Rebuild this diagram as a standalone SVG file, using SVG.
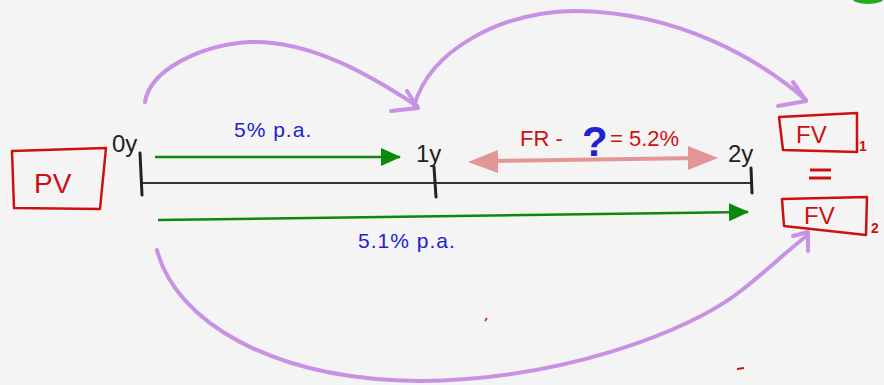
<svg xmlns="http://www.w3.org/2000/svg" width="884" height="385" viewBox="0 0 884 385">
<defs>
<style>
.hand{font-family:"Liberation Sans","DejaVu Sans",sans-serif;}
.red{fill:#cc1111;}
.blue{fill:#2222cc;}
.blk{fill:#222;}
.box{fill:none;stroke:#cc1111;stroke-width:2.5;stroke-linejoin:round;}
.arc{fill:none;stroke:#c991e3;stroke-width:4;stroke-linecap:round;stroke-linejoin:round;}
.green{stroke:#0a8a0a;stroke-width:2.5;fill:none;}
.tick{stroke:#222;stroke-width:3;stroke-linecap:round;}
</style>
<marker id="gh" markerWidth="20" markerHeight="18" refX="19" refY="9" orient="auto" markerUnits="userSpaceOnUse" viewBox="0 0 20 18">
<path d="M0,0 L20,9 L0,18 Z" fill="#0a8a0a"/>
</marker>
</defs>
<rect width="884" height="385" fill="#f4f4f4"/>
<ellipse cx="868" cy="-2" rx="16" ry="6" fill="#22aa22"/>

<g id="timeline">
<line x1="140" y1="183" x2="752" y2="183" stroke="#333" stroke-width="2"/>
<line class="tick" x1="140" y1="153" x2="142" y2="195"/>
<line class="tick" x1="434" y1="167" x2="436" y2="197"/>
<line class="tick" x1="751" y1="168" x2="752" y2="193"/>
<text class="hand blk" x="112" y="152" font-size="24">0y</text>
<text class="hand blk" x="416" y="162" font-size="24">1y</text>
<text class="hand blk" x="728" y="162" font-size="24">2y</text>
</g>

<g id="pv">
<path class="box" d="M12,151 L106,148 L100,209 L14,208 Z"/>
<text class="hand red" x="34" y="193" font-size="28">PV</text>
</g>

<g id="fv1">
<path class="box" d="M779,117 L857,113 L857,152 L783,150 Z"/>
<text class="hand red" x="796" y="143" font-size="24">FV</text>
<text class="hand red" x="859" y="151" font-size="14" font-weight="bold">1</text>
</g>
<g id="eq">
<line x1="810" y1="170" x2="831" y2="170" stroke="#cc1111" stroke-width="3"/>
<line x1="809" y1="178" x2="831" y2="178" stroke="#cc1111" stroke-width="3"/>
</g>
<g id="fv2">
<path class="box" d="M782,199 L867,197 L866,235 L784,226 Z"/>
<text class="hand red" x="804" y="224" font-size="24">FV</text>
<text class="hand red" x="871" y="233" font-size="14" font-weight="bold">2</text>
</g>

<g id="connectors">
<line class="green" x1="155" y1="157" x2="400" y2="157" marker-end="url(#gh)"/>
<line class="green" x1="158" y1="220" x2="748" y2="212" marker-end="url(#gh)"/>
<line x1="488" y1="161" x2="700" y2="158" stroke="#e39696" stroke-width="4"/>
<path d="M468,162 L498,150 L498,173 Z" fill="#e39696"/>
<path d="M718,158 L688,146 L688,170 Z" fill="#e39696"/>
<path class="arc" d="M145,102 C150,70 200,45 250,42 C310,40 370,75 417,106"/>
<path class="arc" d="M407,91 L418,108 L391,111"/>
<path class="arc" d="M414,106 C430,50 500,12 575,11 C680,12 760,60 806,100"/>
<path class="arc" d="M793,82 L806,101 L778,106"/>
<path class="arc" d="M157,250 C175,320 270,380 420,381 C560,380 690,332 742,290 C770,268 790,248 808,235"/>
<path class="arc" d="M793,236 L808,232 L808,251"/>
</g>

<g id="labels">
<text class="hand blue" x="234" y="137" font-size="21" letter-spacing="1">5% p.a.</text>
<text class="hand blue" x="358" y="248" font-size="21" letter-spacing="1">5.1% p.a.</text>
<text class="hand red" x="520" y="146" font-size="22">FR -</text>
<text class="hand blue" x="582" y="156" font-size="42" font-weight="bold">?</text>
<text class="hand red" x="610" y="146" font-size="22">= 5.2%</text>
</g>
<line x1="485" y1="321" x2="487" y2="318" stroke="#cc1111" stroke-width="1.5"/>
<line x1="737" y1="369" x2="744" y2="368" stroke="#cc1111" stroke-width="2"/>
</svg>
